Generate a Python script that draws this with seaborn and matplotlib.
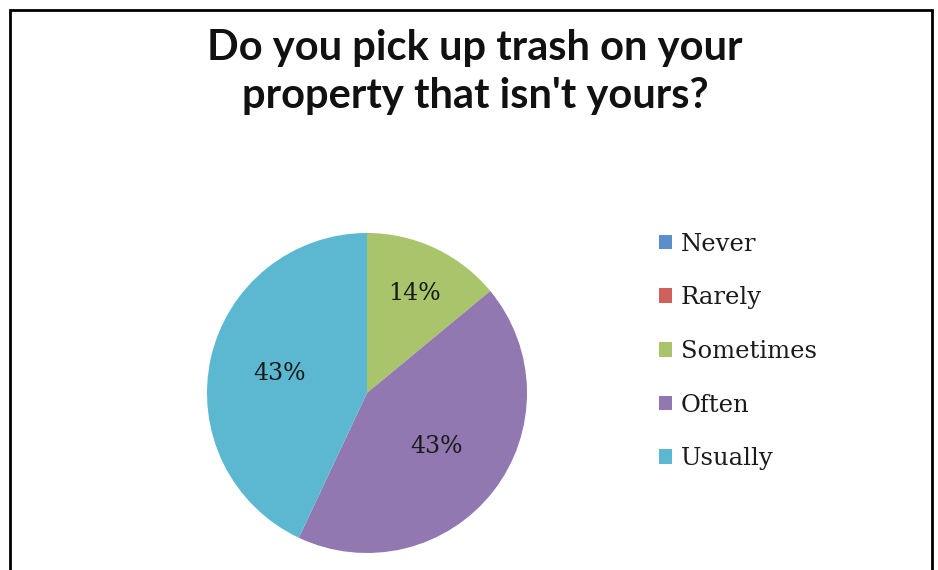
import matplotlib
matplotlib.use("Agg")
import matplotlib.pyplot as plt
import seaborn as sns
import numpy as np
from matplotlib.patches import Rectangle

sns.set_theme(style="white")

categories = ["Never", "Rarely", "Sometimes", "Often", "Usually"]
values = [0, 0, 14, 43, 43]
colors = ["#5B8FCB", "#D0605C", "#A9C46A", "#9178B0", "#5BB8D0"]
label_dist = [0.6, 0.6, 0.69, 0.55, 0.56]
title = "Do you pick up trash on your\nproperty that isn't yours?"

W, H = 938, 570
fig = plt.figure(figsize=(W / 100, H / 100), dpi=100)
fig.patch.set_facecolor("white")

# frame, open at the bottom as in the reference
fig.add_artist(Rectangle((10 / W, -0.05), (932 - 10) / W, (H - 10) / H + 0.05,
                         transform=fig.transFigure, fill=False,
                         edgecolor="black", linewidth=2, clip_on=False))

cx, cy, r = 367, 393, 160
ax = fig.add_axes([(cx - r) / W, (H - cy - r) / H, 2 * r / W, 2 * r / H])

def pct(p):
    return f"{p:.0f}%" if p > 0.5 else ""

wedges, texts, autotexts = ax.pie(values, colors=colors, startangle=90,
                                  counterclock=False, autopct=pct,
                                  pctdistance=0.6,
                                  wedgeprops=dict(linewidth=0),
                                  textprops=dict(family="DejaVu Serif",
                                                 fontsize=17, color="#1a1a1a"))
for w, t, d in zip(wedges, autotexts, label_dist):
    ang = np.deg2rad((w.theta1 + w.theta2) / 2)
    t.set_position((d * np.cos(ang), d * np.sin(ang)))

ax.set_xlim(-1, 1)
ax.set_ylim(-1, 1)
ax.set_aspect("equal")
ax.axis("off")

fig.text(475 / W, 1 - 72 / H, title, ha="center", va="center",
         fontsize=30, fontweight="bold", family="Lato", color="#111111",
         linespacing=1.3)

leg = fig.legend(wedges, categories, loc="upper left",
                 bbox_to_anchor=(649 / W, 1 - 223 / H), frameon=False,
                 prop=dict(family="DejaVu Serif", size=17.5),
                 handlelength=0.55, handleheight=0.55, handletextpad=0.35,
                 labelspacing=1.26, borderaxespad=0)
for t in leg.get_texts():
    t.set_color("#1a1a1a")

fig.savefig("out.png", dpi=100, facecolor="white")
